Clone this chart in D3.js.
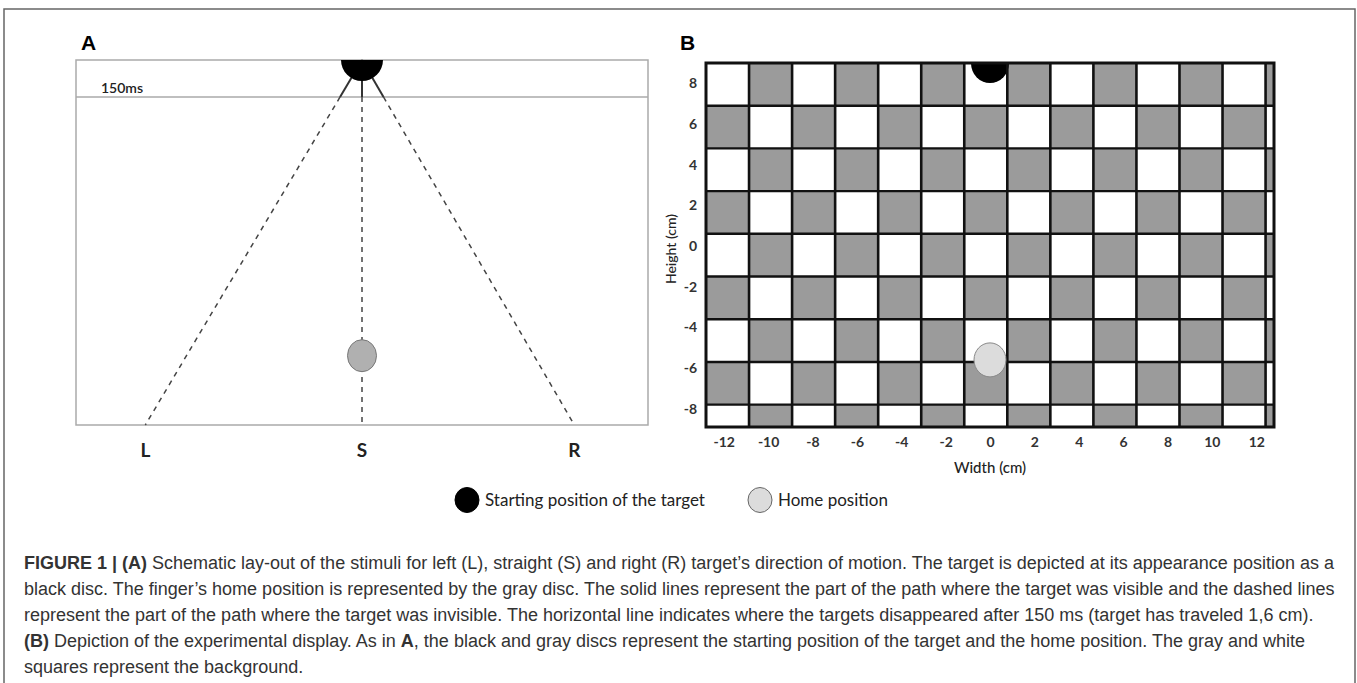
<!DOCTYPE html>
<html>
<head>
<meta charset="utf-8">
<script src="https://cdn.jsdelivr.net/npm/d3@7"></script>
<style>
  body { margin: 0; background: #fff; }
  svg { display: block; }
  .fig { font-family: Lato, "Open Sans", sans-serif; }
  .cap { font-family: "Liberation Sans", Arial, sans-serif; font-size: 18px; fill: #333; }
</style>
</head>
<body>
<svg id="chart" width="1357" height="683"></svg>
<script>
// panel A: target paths, cm from the start position
const directions = ["L", "S", "R"];
const endX = [-10, 0, 9.8];
const visibleDist = 1.6;      // distance travelled in 150 ms
const homeA = 12.8;

// panel B: experimental display, cm
const xTicks = [-12, -10, -8, -6, -4, -2, 0, 2, 4, 6, 8, 10, 12];
const yTicks = [8, 6, 4, 2, 0, -2, -4, -6, -8];
const xExtent = [-12.8, 12.8];
const yExtent = [-8.9, 9.0];
const cellW = 1.94, cellH = 2.1;
const targetStart = [0, 9.0];
const homePos = [0, -5.6];

const legendLabels = ["Starting position of the target", "Home position"];

const captionLines = [
  [["FIGURE 1 | (A)", true], [" Schematic lay-out of the stimuli for left (L), straight (S) and right (R) target\u2019s direction of motion. The target is depicted at its appearance position as a", false]],
  [["black disc. The finger\u2019s home position is represented by the gray disc. The solid lines represent the part of the path where the target was visible and the dashed lines", false]],
  [["represent the part of the path where the target was invisible. The horizontal line indicates where the targets disappeared after 150 ms (target has traveled 1,6 cm).", false]],
  [["(B)", true], [" Depiction of the experimental display. As in ", false], ["A", true], [", the black and gray discs represent the starting position of the target and the home position. The gray and white", false]],
  [["squares represent the background.", false]]
];

const svg = d3.select("#chart");

// page frame
svg.append("path")
  .attr("d", "M4,683V9H1355V683")
  .attr("fill", "none").attr("stroke", "#666").attr("stroke-width", 1.5);

/* ------- PANEL A ------- */
const xA = d3.scaleLinear().domain([-13.2, 13.2]).range([76, 648]);
const yA = d3.scaleLinear().domain([0, 15.8]).range([60, 425]);
const gA = svg.append("g").attr("class", "fig");

gA.append("text").attr("x", 81).attr("y", 50)
  .style("font-family", "'Liberation Sans', Arial, sans-serif")
  .style("font-weight", "bold").style("font-size", "21px").text("A");

gA.append("defs").append("clipPath").attr("id", "clipA")
  .append("rect")
  .attr("x", xA(-13.2)).attr("y", yA(0))
  .attr("width", xA(13.2) - xA(-13.2)).attr("height", yA(15.8) - yA(0));

gA.append("rect")
  .attr("x", xA(-13.2)).attr("y", yA(0))
  .attr("width", xA(13.2) - xA(-13.2)).attr("height", yA(15.8) - yA(0))
  .attr("fill", "#fff").attr("stroke", "#aaa").attr("stroke-width", 1.5);

gA.append("line")
  .attr("x1", xA(-13.2)).attr("x2", xA(13.2))
  .attr("y1", yA(visibleDist)).attr("y2", yA(visibleDist))
  .attr("stroke", "#aaa").attr("stroke-width", 1.5);

gA.append("text").attr("x", 101).attr("y", yA(visibleDist) - 4)
  .style("font-size", "14px").style("font-weight", 600).attr("fill", "#222")
  .text("150ms");

const paths = directions.map((d, i) => ({ label: d, x: endX[i] }));
const yEnd = 15.8;

// dashed part (invisible target)
gA.selectAll("line.dash").data(paths).join("line")
  .attr("class", "dash")
  .attr("x1", d => xA(d.x * visibleDist / yEnd)).attr("y1", yA(visibleDist))
  .attr("x2", d => xA(d.x)).attr("y2", yA(yEnd))
  .attr("stroke", "#444").attr("stroke-width", 1.5)
  .attr("stroke-dasharray", "5,5");

// solid part (visible target)
gA.selectAll("line.solid").data(paths).join("line")
  .attr("class", "solid")
  .attr("x1", xA(0)).attr("y1", yA(0))
  .attr("x2", d => xA(d.x * visibleDist / yEnd)).attr("y2", yA(visibleDist))
  .attr("stroke", "#333").attr("stroke-width", 2);

gA.append("circle")
  .attr("cx", xA(0)).attr("cy", yA(0)).attr("r", 21)
  .attr("clip-path", "url(#clipA)").attr("fill", "#000");

gA.append("ellipse")
  .attr("cx", xA(0)).attr("cy", yA(homeA)).attr("rx", 14.5).attr("ry", 16)
  .attr("fill", "#b0b0b0").attr("stroke", "#777").attr("stroke-width", 1);

gA.selectAll("text.dir").data(paths).join("text")
  .attr("class", "dir")
  .attr("x", d => xA(d.x)).attr("y", 457)
  .attr("text-anchor", "middle")
  .style("font-size", "19px").style("font-weight", "bold").attr("fill", "#222")
  .text(d => d.label);

/* ------- PANEL B ------- */
const x = d3.scaleLinear().domain(xExtent).range([706, 1274]);
const y = d3.scaleLinear().domain(yExtent).range([427, 63]);
const gB = svg.append("g").attr("class", "fig");

gB.append("text").attr("x", 680).attr("y", 50)
  .style("font-family", "'Liberation Sans', Arial, sans-serif")
  .style("font-weight", "bold").style("font-size", "21px").text("B");

const nCols = Math.ceil((xExtent[1] - xExtent[0]) / cellW - 1e-6);
const nRows = Math.ceil((yExtent[1] - yExtent[0]) / cellH - 1e-6);
const cells = [];
for (let r = 0; r < nRows; r++) {
  for (let c = 0; c < nCols; c++) {
    const x0 = xExtent[0] + c * cellW;
    const y0 = yExtent[1] - r * cellH;
    cells.push({
      x0: x0, x1: Math.min(x0 + cellW, xExtent[1]),
      y0: y0, y1: Math.max(y0 - cellH, yExtent[0]),
      gray: (r + c) % 2 === 1
    });
  }
}

gB.selectAll("rect.cell").data(cells).join("rect")
  .attr("class", "cell")
  .attr("x", d => x(d.x0)).attr("y", d => y(d.y0))
  .attr("width", d => x(d.x1) - x(d.x0)).attr("height", d => y(d.y1) - y(d.y0))
  .attr("fill", d => d.gray ? "#9b9b9b" : "#fff");

gB.append("defs").append("clipPath").attr("id", "clipB")
  .append("rect")
  .attr("x", x(xExtent[0])).attr("y", y(yExtent[1]))
  .attr("width", x(xExtent[1]) - x(xExtent[0])).attr("height", y(yExtent[0]) - y(yExtent[1]));

gB.append("ellipse")
  .attr("cx", x(targetStart[0])).attr("cy", y(targetStart[1]))
  .attr("rx", 19).attr("ry", 20)
  .attr("clip-path", "url(#clipB)").attr("fill", "#000");

const vLines = d3.range(1, nCols).map(c => xExtent[0] + c * cellW);
const hLines = d3.range(1, nRows).map(r => yExtent[1] - r * cellH);

gB.selectAll("line.v").data(vLines).join("line")
  .attr("class", "v")
  .attr("x1", d => x(d)).attr("x2", d => x(d))
  .attr("y1", y(yExtent[1])).attr("y2", y(yExtent[0]))
  .attr("stroke", "#111").attr("stroke-width", 2.6);

gB.selectAll("line.h").data(hLines).join("line")
  .attr("class", "h")
  .attr("x1", x(xExtent[0])).attr("x2", x(xExtent[1]))
  .attr("y1", d => y(d)).attr("y2", d => y(d))
  .attr("stroke", "#111").attr("stroke-width", 2.4);

gB.append("rect")
  .attr("x", x(xExtent[0])).attr("y", y(yExtent[1]))
  .attr("width", x(xExtent[1]) - x(xExtent[0])).attr("height", y(yExtent[0]) - y(yExtent[1]))
  .attr("fill", "none").attr("stroke", "#111").attr("stroke-width", 3);

gB.append("ellipse")
  .attr("cx", x(homePos[0])).attr("cy", y(homePos[1]))
  .attr("rx", 16).attr("ry", 17)
  .attr("fill", "#dcdcdc").attr("stroke", "#888").attr("stroke-width", 1);

// axes
const xAxis = gB.append("g")
  .attr("transform", `translate(0,${y(yExtent[0]) + 4})`)
  .call(d3.axisBottom(x).tickValues(xTicks).tickFormat(d => String(d)).tickSize(0).tickPadding(6));
const yAxis = gB.append("g")
  .attr("transform", `translate(${x(xExtent[0]) - 4},0)`)
  .call(d3.axisLeft(y).tickValues(yTicks).tickFormat(d => String(d)).tickSize(0).tickPadding(5));
[xAxis, yAxis].forEach(a => {
  a.select(".domain").remove();
  a.selectAll("text")
    .style("font-family", "Lato, sans-serif")
    .style("font-size", "14px").style("font-weight", "bold").attr("fill", "#333");
});

gB.append("text")
  .attr("x", x(0)).attr("y", 473).attr("text-anchor", "middle")
  .style("font-size", "15px").style("font-weight", 500).attr("fill", "#222")
  .text("Width (cm)");

gB.append("text")
  .attr("transform", `translate(676,${(y(yExtent[0]) + y(yExtent[1])) / 2 + 4}) rotate(-90)`)
  .attr("text-anchor", "middle")
  .style("font-size", "14px").style("font-weight", 500).attr("fill", "#222")
  .text("Height (cm)");

/* ------- LEGEND ------- */
const legend = svg.append("g").attr("class", "fig")
  .attr("transform", "translate(467,500)");
const legItems = legendLabels.map((t, i) => ({
  text: t, fill: i === 0 ? "#000" : "#dcdcdc", stroke: i === 0 ? "#000" : "#666", dx: i === 0 ? 0 : 293
}));
const li = legend.selectAll("g").data(legItems).join("g")
  .attr("transform", d => `translate(${d.dx},0)`);
li.append("ellipse").attr("rx", 12).attr("ry", 12.5)
  .attr("fill", d => d.fill).attr("stroke", d => d.stroke).attr("stroke-width", 1);
li.append("text").attr("x", 18).attr("y", 6)
  .style("font-size", "17px").attr("fill", "#222")
  .text(d => d.text);

/* ------- CAPTION ------- */
const cap = svg.append("g").attr("class", "cap");
captionLines.forEach((parts, i) => {
  const t = cap.append("text").attr("x", 24).attr("y", 569 + i * 26);
  parts.forEach(p => {
    t.append("tspan").style("font-weight", p[1] ? "bold" : "normal").text(p[0]);
  });
});
</script>
</body>
</html>
